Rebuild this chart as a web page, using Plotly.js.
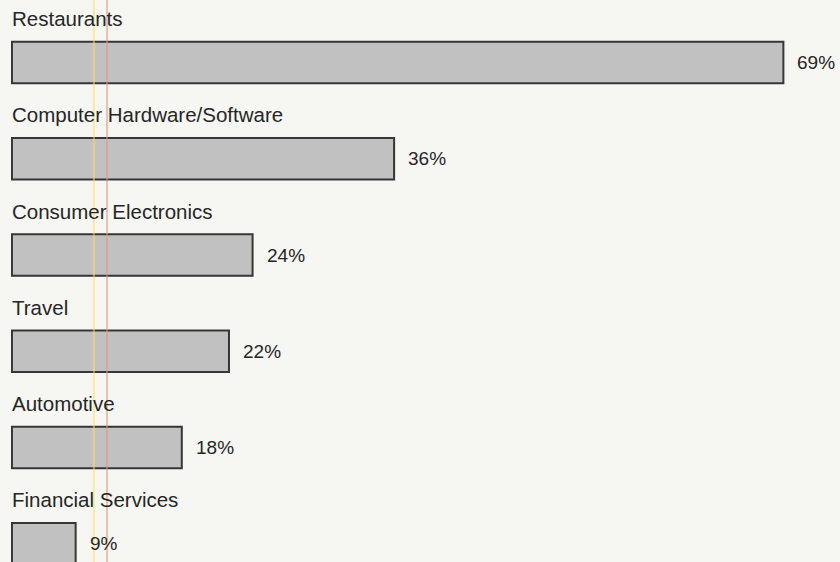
<!DOCTYPE html>
<html>
<head>
<meta charset="utf-8">
<script src="https://cdn.plot.ly/plotly-3.0.1.min.js"></script>
<style>
  html, body { margin: 0; padding: 0; background: #f6f6f3; }
  #chart { width: 840px; height: 562px; }
</style>
</head>
<body>
<div id="chart"></div>
<script>
// Data
const categories = ["Restaurants", "Computer Hardware/Software", "Consumer Electronics", "Travel", "Automotive", "Financial Services"];
const values = [69, 36, 24, 22, 18, 9];
const valueLabels = ["69%", "36%", "24%", "22%", "18%", "9%"];

// the printed bars start from an offset value, not from zero
const AXIS_START = 3.6;

const fontFamily = "Liberation Sans, Arial, Helvetica, sans-serif";
const textColor = "#262626";

const trace = {
  type: "bar",
  orientation: "h",
  base: AXIS_START,
  x: values.map(v => v - AXIS_START),
  y: categories,
  width: 0.43,
  marker: { color: "#c1c1c1", line: { color: "#363636", width: 2 } },
  hoverinfo: "none"
};

const annotations = [];
categories.forEach((c, i) => {
  annotations.push({
    xref: "paper", x: 0, xanchor: "left", xshift: -1,
    yref: "y", y: c, yanchor: "middle", yshift: 44,
    text: c, showarrow: false,
    font: { family: fontFamily, size: 20.5, color: textColor }
  });
  annotations.push({
    xref: "x", x: values[i], xanchor: "left",
    yref: "y", y: c, yanchor: "middle", xshift: 12,
    text: valueLabels[i], showarrow: false,
    font: { family: fontFamily, size: 19, color: textColor }
  });
});

const layout = {
  width: 840, height: 562,
  margin: { l: 11, r: 0, t: 0, b: 0 },
  paper_bgcolor: "#f6f6f3",
  plot_bgcolor: "rgba(0,0,0,0)",
  showlegend: false,
  xaxis: { range: [3.52, 73.8], visible: false, fixedrange: true },
  yaxis: { type: "category", range: [5.19, -0.65], visible: false, fixedrange: true },
  annotations: annotations,
  shapes: [
    { type: "line", xref: "paper", yref: "paper", x0: 0.1, x1: 0.1, y0: 0, y1: 1,
      line: { color: "rgba(250,225,90,0.55)", width: 2 }, layer: "above" },
    { type: "line", xref: "paper", yref: "paper", x0: 0.1158, x1: 0.1158, y0: 0, y1: 1,
      line: { color: "rgba(225,150,120,0.55)", width: 2 }, layer: "above" }
  ]
};

Plotly.newPlot("chart", [trace], layout, { staticPlot: true, displayModeBar: false });
</script>
</body>
</html>
